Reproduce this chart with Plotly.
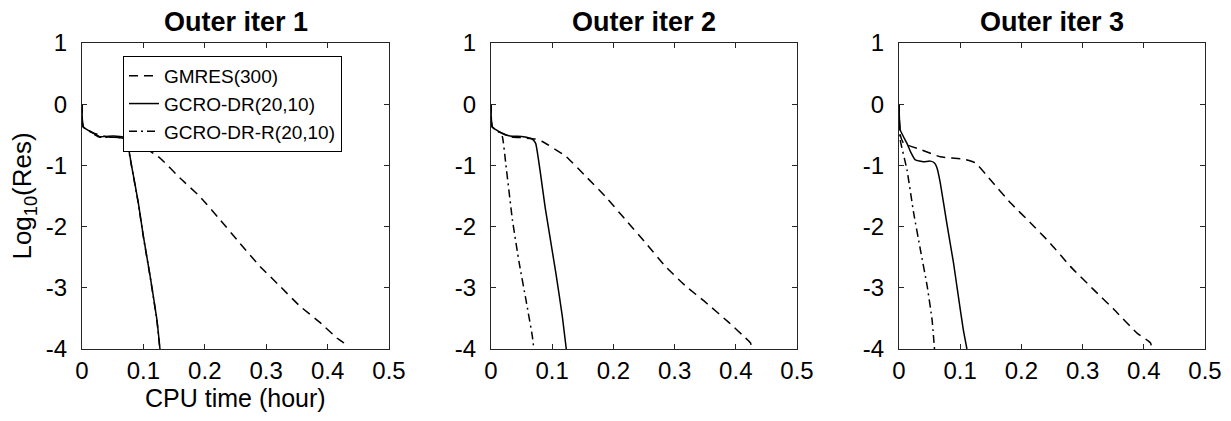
import plotly.graph_objects as go

# ---------------- data ----------------
titles = ["Outer iter 1", "Outer iter 2", "Outer iter 3"]
series_names = ["GMRES(300)", "GCRO-DR(20,10)", "GCRO-DR-R(20,10)"]
x_title = "CPU time (hour)"
y_title = "Log<sub>10</sub>(Res)"

x_tickvals = [0, 0.1, 0.2, 0.3, 0.4, 0.5]
x_ticktext = ["0", "0.1", "0.2", "0.3", "0.4", "0.5"]
y_tickvals = [-4, -3, -2, -1, 0, 1]
y_ticktext = ["-4", "-3", "-2", "-1", "0", "1"]

# Outer iter 1
gmres1_t = [0, 0.002, 0.018, 0.040, 0.062, 0.075, 0.0863, 0.127, 0.160, 0.192, 0.225, 0.257,
            0.290, 0.322, 0.355, 0.388, 0.415, 0.426, 0.427]
gmres1_r = [0, -0.37, -0.47, -0.53, -0.55, -0.57, -0.61, -0.88, -1.21, -1.51, -1.89, -2.27,
            -2.65, -2.97, -3.30, -3.57, -3.82, -3.90, -4.0]
gcro1_t = [0, 0.002, 0.018, 0.029, 0.051, 0.0673, 0.0727, 0.081, 0.0917, 0.100, 0.111, 0.122, 0.127]
gcro1_r = [0, -0.37, -0.47, -0.53, -0.52, -0.54, -0.58, -1.02, -1.61, -2.16, -2.81, -3.52, -4.0]
gcror1_t = [0, 0.002, 0.018, 0.029, 0.051, 0.0670, 0.0724, 0.0808, 0.0915, 0.0998, 0.1108, 0.1218, 0.1268]
gcror1_r = [0, -0.37, -0.48, -0.54, -0.54, -0.55, -0.59, -1.02, -1.61, -2.16, -2.81, -3.52, -4.0]

# Outer iter 2
gmres2_t = [0, 0.002, 0.017, 0.031, 0.053, 0.072, 0.0839, 0.122, 0.155, 0.187, 0.220, 0.253,
            0.285, 0.318, 0.351, 0.389, 0.416, 0.424, 0.426]
gmres2_r = [0, -0.37, -0.47, -0.53, -0.55, -0.57, -0.61, -0.85, -1.18, -1.51, -1.89, -2.27,
            -2.65, -2.97, -3.24, -3.57, -3.82, -3.90, -4.0]
gcro2_t = [0, 0.002, 0.017, 0.031, 0.053, 0.0675, 0.073, 0.089, 0.106, 0.1166, 0.123]
gcro2_r = [0, -0.37, -0.47, -0.52, -0.53, -0.57, -0.64, -1.72, -2.76, -3.47, -4.0]
gcror2_t = [0, 0.002, 0.012, 0.0185, 0.024, 0.035, 0.046, 0.057, 0.0675, 0.070]
gcror2_r = [0, -0.37, -0.45, -0.53, -0.96, -1.89, -2.59, -3.19, -3.79, -4.0]

# Outer iter 3
gmres3_t = [0, 0.002, 0.0076, 0.035, 0.0675, 0.106, 0.125, 0.149, 0.182, 0.215, 0.247, 0.280,
            0.318, 0.351, 0.389, 0.411, 0.413]
gmres3_r = [0, -0.50, -0.64, -0.74, -0.86, -0.90, -0.96, -1.23, -1.61, -1.94, -2.27, -2.65,
            -3.03, -3.35, -3.74, -3.90, -4.0]
gcro3_t = [0, 0.002, 0.013, 0.0185, 0.0267, 0.040, 0.051, 0.058, 0.062, 0.0675, 0.078, 0.089,
           0.097, 0.105, 0.111]
gcro3_r = [0, -0.42, -0.64, -0.77, -0.91, -0.94, -0.93, -0.96, -1.04, -1.29, -1.94, -2.59,
           -3.14, -3.68, -4.0]
gcror3_t = [0, 0.002, 0.013, 0.024, 0.035, 0.046, 0.054, 0.058]
gcror3_r = [0, -0.58, -1.07, -1.78, -2.38, -2.97, -3.52, -4.0]

panels = [
    [(gmres1_t, gmres1_r), (gcro1_t, gcro1_r), (gcror1_t, gcror1_r)],
    [(gmres2_t, gmres2_r), (gcro2_t, gcro2_r), (gcror2_t, gcror2_r)],
    [(gmres3_t, gmres3_r), (gcro3_t, gcro3_r), (gcror3_t, gcror3_r)],
]

# ---------------- styling ----------------
W, H = 1231, 421
x_domains = [[82 / W, 389 / W], [491 / W, 797 / W], [899 / W, 1205 / W]]
y_domain = [(H - 349) / H, (H - 43) / H]
dashes = ["9px,6px", "solid", "8px,4px,2px,4px"]
FONT = "Liberation Sans, Arial, Helvetica, sans-serif"

fig = go.Figure()
for p, curves in enumerate(panels):
    ax = "" if p == 0 else str(p + 1)
    for s, (t, r) in enumerate(curves):
        fig.add_trace(go.Scatter(
            x=t, y=r, mode="lines", name=series_names[s],
            line=dict(color="black", width=1.5, dash=dashes[s], shape="spline", smoothing=0.4),
            xaxis="x" + ax, yaxis="y" + ax,
            showlegend=(p == 0), hoverinfo="skip",
        ))

axis_common = dict(
    showgrid=False, zeroline=False, showline=True, linecolor="#262626", linewidth=1,
    mirror="ticks", ticks="inside", ticklen=5, tickcolor="#262626", automargin=False,
    tickfont=dict(family=FONT, size=24, color="black"),
)

layout = dict(
    width=W, height=H, margin=dict(l=0, r=0, t=0, b=0, autoexpand=False),
    plot_bgcolor="white", paper_bgcolor="white",
    font=dict(family=FONT, color="black"),
    legend=dict(
        x=123 / W, y=(H - 56) / H, xanchor="left", yanchor="top",
        bordercolor="black", borderwidth=1, bgcolor="white",
        font=dict(family=FONT, size=19, color="black"),
        tracegroupgap=0,
    ),
    annotations=[],
)

for p in range(3):
    ax = "" if p == 0 else str(p + 1)
    layout["xaxis" + ax] = dict(
        axis_common, domain=x_domains[p], range=[0, 0.5],
        tickvals=x_tickvals, ticktext=x_ticktext, anchor="y" + ax,
        ticklabelstandoff=0,
    )
    layout["yaxis" + ax] = dict(
        axis_common, domain=y_domain, range=[-4, 1],
        tickvals=y_tickvals, ticktext=y_ticktext, anchor="x" + ax,
        ticklabelstandoff=9,
    )
    layout["annotations"].append(dict(
        text="<b>" + titles[p] + "</b>", xref="paper", yref="paper",
        x=sum(x_domains[p]) / 2, y=(H - 22) / H, xanchor="center", yanchor="middle",
        showarrow=False, font=dict(family=FONT, size=27, color="black"),
    ))

# x-axis title of the first panel
layout["annotations"].append(dict(
    text=x_title, xref="paper", yref="paper",
    x=sum(x_domains[0]) / 2, y=(H - 398) / H, xanchor="center", yanchor="middle",
    showarrow=False, font=dict(family=FONT, size=25, color="black"),
))
layout["yaxis"]["title"] = dict(text=y_title, font=dict(family=FONT, size=26, color="black"), standoff=6)

fig.update_layout(**layout)
fig.write_html("out.html")
